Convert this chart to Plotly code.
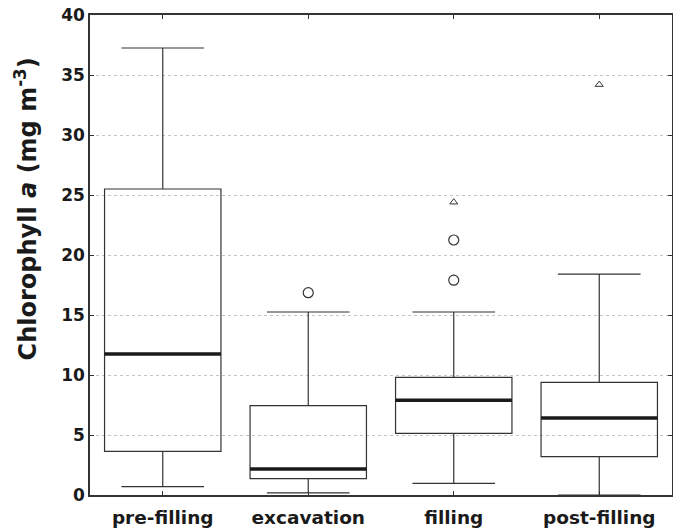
import plotly.graph_objects as go

categories = ["pre-filling", "excavation", "filling", "post-filling"]
lower_whisker = [0.7, 0.17, 0.97, 0.0]
q1 = [3.64, 1.36, 5.14, 3.19]
median = [11.75, 2.17, 7.89, 6.42]
q3 = [25.5, 7.44, 9.8, 9.39]
upper_whisker = [37.25, 15.25, 15.25, 18.4]
outlier_cat = [1, 2, 2]
outlier_val = [16.86, 21.25, 17.9]
extreme_cat = [2, 3]
extreme_val = [24.4, 34.2]
y_ticks = [0, 5, 10, 15, 20, 25, 30, 35, 40]

xpos = list(range(len(categories)))
BOX_W = 0.8
LINE = "#333333"
FONT = "DejaVu Sans, Liberation Sans, Arial, sans-serif"

fig = go.Figure()
fig.add_trace(go.Box(
    x=xpos, q1=q1, median=median, q3=q3,
    lowerfence=lower_whisker, upperfence=upper_whisker,
    width=BOX_W, whiskerwidth=0.71,
    fillcolor="rgba(255,255,255,0)",
    line=dict(color=LINE, width=1.2),
    boxpoints=False, showlegend=False, hoverinfo="skip",
))

# thick median lines
mx, my = [], []
for i, m in enumerate(median):
    mx += [xpos[i] - BOX_W / 2, xpos[i] + BOX_W / 2, None]
    my += [m, m, None]
fig.add_trace(go.Scatter(x=mx, y=my, mode="lines",
                         line=dict(color="#1a1a1a", width=3.5),
                         showlegend=False, hoverinfo="skip"))

fig.add_trace(go.Scatter(x=outlier_cat, y=outlier_val, mode="markers",
                         marker=dict(symbol="circle-open", size=10,
                                     color=LINE, line=dict(width=1.2)),
                         showlegend=False))
fig.add_trace(go.Scatter(x=extreme_cat, y=extreme_val, mode="markers",
                         marker=dict(symbol="triangle-up-open", size=7,
                                     color=LINE, line=dict(width=1)),
                         showlegend=False))

fig.update_layout(
    width=665, height=524,
    margin=dict(l=82, r=1, t=7, b=37),
    paper_bgcolor="white", plot_bgcolor="white",
    font=dict(family=FONT, color="#1a1a1a"),
    annotations=[dict(
        text="<b>Chlorophyll <i>a</i> (mg m<sup>-3</sup>)</b>",
        textangle=-90, font=dict(size=24, family=FONT, color="#1a1a1a"),
        xref="paper", yref="paper", x=0, y=0.595,
        xanchor="center", yanchor="middle", xshift=-64, showarrow=False,
    )],
)
fig.update_xaxes(
    range=[-0.5, 3.5], tickvals=xpos, ticktext=[f"<b>{c}</b>" for c in categories],
    tickfont=dict(size=18.5), ticks="inside", ticklen=4, tickcolor=LINE,
    ticklabelstandoff=5, automargin=False,
    showline=True, linecolor=LINE, linewidth=1.5, mirror="ticks",
    showgrid=False, zeroline=False,
)
fig.update_yaxes(
    range=[0, 40], tickvals=y_ticks, ticktext=[f"<b>{v}</b>" for v in y_ticks],
    tickfont=dict(size=17), ticks="inside", ticklen=4, tickcolor=LINE,
    ticklabeloverflow="allow", automargin=False,
    showline=True, linecolor=LINE, linewidth=1.5, mirror="ticks",
    showgrid=True, gridcolor="#c4c4c4", griddash="dot", gridwidth=1,
    zeroline=False,
)

fig.write_html("out.html")
